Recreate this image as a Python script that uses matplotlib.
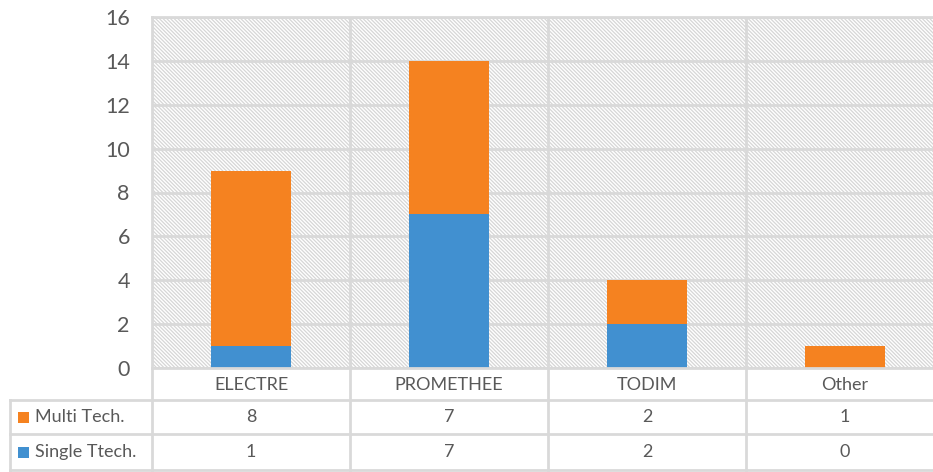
import numpy as np
import matplotlib
matplotlib.use("Agg")
import matplotlib.pyplot as plt
from matplotlib.patches import Rectangle
from matplotlib.lines import Line2D
import matplotlib.transforms as mtransforms

categories = ["ELECTRE", "PROMETHEE", "TODIM", "Other"]
single = [1, 7, 2, 0]
multi = [8, 7, 2, 1]
series_names = ["Multi Tech.", "Single Ttech."]

orange = "#F58220"
blue = "#4190D0"
grid_c = "#D9D9D9"
text_c = "#595959"

plt.rcParams["font.family"] = ["Lato", "DejaVu Sans"]
plt.rcParams["hatch.linewidth"] = 0.9

W, H = 933, 472
fig = plt.figure(figsize=(W / 100, H / 100), dpi=100)

# plot area in pixels
left, right, top, bottom = 152, 944, 17, 368
ax = fig.add_axes([left / W, 1 - bottom / H, (right - left) / W, (bottom - top) / H])
x = np.arange(len(categories))
ax.set_xlim(-0.5, len(categories) - 0.5)
ax.set_ylim(0, 16)

ax.add_patch(Rectangle((0, 0), 1, 1, transform=ax.transAxes, facecolor="white",
                       edgecolor="#D6D6D6", linewidth=0, hatch="\\" * 9, zorder=0))

ax.bar(x, single, width=0.404, color=blue, zorder=3)
ax.bar(x, multi, width=0.404, bottom=single, color=orange, zorder=3)

ax.set_yticks(np.arange(0, 17, 2))
ax.tick_params(axis="y", length=0, labelsize=15.5, labelcolor=text_c, pad=16)
ax.set_xticks([])
ax.grid(axis="y", color=grid_c, linewidth=2, zorder=1)
for s in ax.spines.values():
    s.set_visible(False)
for b in np.arange(-0.5, len(categories), 1.0)[1:]:
    ax.axvline(b, color=grid_c, linewidth=2, zorder=1)
ax.axvline(-0.5, color=grid_c, linewidth=2, zorder=1, clip_on=False)
ax.axhline(16, color=grid_c, linewidth=2, zorder=1, clip_on=False)

# table below (x in data coords, y in figure pixels from top)
trans = mtransforms.blended_transform_factory(ax.transData, fig.dpi_scale_trans)
def ypx(p):
    return (H - p) / 100

rows = [368, 400, 434, 470]
tbl_left_px = 10
x_tbl_left = ax.transData.inverted().transform(fig.transFigure.transform((tbl_left_px / W, 0)))[0]
xb = list(np.arange(-0.5, len(categories), 1.0))

def hline(x0, x1, ypix):
    fig.add_artist(Line2D([x0, x1], [ypx(ypix)] * 2, transform=trans, color=grid_c, lw=2))

def vline(xx, y0, y1):
    fig.add_artist(Line2D([xx, xx], [ypx(y0), ypx(y1)], transform=trans, color=grid_c, lw=2))

hline(-0.5, 3.6, rows[0])
for r in rows[1:]:
    hline(x_tbl_left, 3.6, r)
vline(x_tbl_left, rows[1], rows[3])
vline(-0.5, rows[0], rows[3])
for b in xb[1:]:
    vline(b, rows[0], rows[3])

for i, c in enumerate(categories):
    fig.text(i, ypx((rows[0] + rows[1]) / 2 + 1), c, transform=trans, ha="center", va="center",
             fontsize=13, color=text_c)

table_vals = [multi, single]
colors = [orange, blue]
for r, (name, vals, col) in enumerate(zip(series_names, table_vals, colors)):
    yc = (rows[r + 1] + rows[r + 2]) / 2
    sq_x0 = x_tbl_left + 8 / 198
    fig.add_artist(Rectangle((sq_x0, ypx(yc + 5.5)), 11 / 198, 0.11, transform=trans,
                             facecolor=col, edgecolor="none"))
    fig.text(x_tbl_left + 25 / 198, ypx(yc), name, transform=trans, ha="left", va="center",
             fontsize=13, color=text_c)
    for i, v in enumerate(vals):
        fig.text(i, ypx(yc), str(v), transform=trans, ha="center", va="center",
                 fontsize=13, color=text_c)

fig.savefig("out.png", dpi=100)
